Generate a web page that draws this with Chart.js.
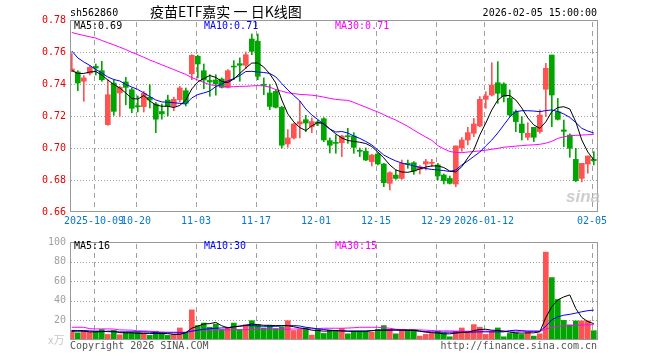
<!DOCTYPE html>
<html><head><meta charset="utf-8">
<script src="https://cdn.jsdelivr.net/npm/chart.js@4"></script>
<style>
body{margin:0;background:#fff;width:660px;height:360px;overflow:hidden;position:relative;font-family:"DejaVu Sans Mono",monospace;}
canvas{position:absolute;left:0;}
#c1{top:0;}
#c2{top:232px;}
.t{position:absolute;font-size:10px;line-height:10px;white-space:nowrap;font-family:"DejaVu Sans Mono",monospace;}
</style></head>
<body>
<canvas id="c1" width="660" height="232" style="width:660px;height:232px"></canvas>
<canvas id="c2" width="660" height="128" style="width:660px;height:128px"></canvas>
<div class="t" id="code" style="left:70px;top:8px;color:#000">sh562860</div>
<div class="t" id="title" style="left:150px;top:3px;font-size:14px;line-height:16px;font-family:'Noto Sans CJK SC',sans-serif;color:#000">疫苗ETF嘉实 一 日K线图</div>
<div class="t" id="time" style="right:63px;top:8px;color:#000">2026-02-05 15:00:00</div>
<div class="t" id="pma5" style="left:74px;top:21px;color:#000"></div>
<div class="t" id="pma10" style="left:204px;top:21px;color:#0000ff"></div>
<div class="t" id="pma30" style="left:335px;top:21px;color:#ff00ff"></div>
<div class="t" id="vma5l" style="left:74px;top:241px;color:#000"></div>
<div class="t" id="vma10l" style="left:204px;top:241px;color:#0000ff"></div>
<div class="t" id="vma30l" style="left:335px;top:241px;color:#ff00ff"></div>
<div class="t" id="unit" style="left:48px;top:334px;color:#c8c8c8;font-size:11px;line-height:11px;font-family:'Noto Sans CJK SC',sans-serif">x万</div>
<div class="t" id="copy" style="left:70px;top:341px;color:#555">Copyright 2026 SINA.COM</div>
<div class="t" id="url" style="right:63px;top:341px;color:#555">http://finance.sina.com.cn</div>
<div class="t" id="sina" style="left:566px;top:188px;font:italic bold 17px 'Liberation Sans',sans-serif;line-height:17px;color:rgba(190,190,190,0.75)">sina</div>
<script>
const tickIdx = [4,11,21,31,41,51,61,69,87];
const tickLabels = ['2025-10-09','10-20','11-03','11-17','12-01','12-15','12-29','2026-01-12','02-05'];
const priceTicks = [0.66,0.68,0.70,0.72,0.74,0.76,0.78];
const volTicks = [0,20,40,60,80,100];

const openP = [0.7480,0.7475,0.7417,0.7467,0.7510,0.7483,0.7146,0.7406,0.7344,0.7413,
0.7364,0.7262,0.7258,0.7317,0.7275,0.7228,0.7300,0.7260,0.7302,0.7358,
0.7464,0.7573,0.7483,0.7422,0.7425,0.7431,0.7379,0.7510,0.7527,0.7517,
0.7681,0.7667,0.7394,0.7344,0.7354,0.7254,0.7025,0.7063,0.7150,0.7177,
0.7133,0.7160,0.7183,0.7046,0.7033,0.7033,0.7077,0.7075,0.6985,0.6979,
0.6915,0.6963,0.6900,0.6779,0.6831,0.6810,0.6904,0.6908,0.6867,0.6900,
0.6904,0.6894,0.6831,0.6810,0.6775,0.7000,0.7050,0.7092,0.7138,0.7304,
0.7331,0.7408,0.7400,0.7311,0.7227,0.7150,0.7067,0.7129,0.7102,0.7367,
0.7581,0.7227,0.7113,0.7081,0.6929,0.6810,0.6900,0.6929];
const highP = [0.7590,0.7483,0.7452,0.7515,0.7525,0.7542,0.7427,0.7427,0.7385,0.7442,
0.7375,0.7325,0.7354,0.7396,0.7285,0.7275,0.7330,0.7318,0.7385,0.7375,
0.7583,0.7580,0.7525,0.7458,0.7458,0.7438,0.7490,0.7546,0.7563,0.7600,
0.7713,0.7713,0.7438,0.7396,0.7365,0.7260,0.7115,0.7156,0.7292,0.7204,
0.7188,0.7175,0.7190,0.7063,0.7081,0.7081,0.7123,0.7096,0.7000,0.7000,
0.6960,0.6971,0.6904,0.6852,0.6863,0.6925,0.6925,0.6915,0.6890,0.6929,
0.6929,0.6904,0.6838,0.6825,0.7013,0.7065,0.7129,0.7185,0.7321,0.7352,
0.7533,0.7540,0.7408,0.7363,0.7238,0.7196,0.7158,0.7129,0.7238,0.7529,
0.7581,0.7310,0.7175,0.7088,0.6998,0.6904,0.6950,0.6977];
const lowP = [0.7478,0.7358,0.7292,0.7456,0.7456,0.7417,0.7142,0.7204,0.7198,0.7270,
0.7220,0.7225,0.7225,0.7250,0.7096,0.7180,0.7200,0.7233,0.7288,0.7263,
0.7427,0.7438,0.7370,0.7323,0.7330,0.7375,0.7375,0.7427,0.7417,0.7496,
0.7583,0.7427,0.7333,0.7240,0.7250,0.7000,0.7004,0.7056,0.7063,0.7102,
0.7096,0.7140,0.7040,0.6969,0.6967,0.6946,0.7029,0.6967,0.6946,0.6921,
0.6888,0.6894,0.6758,0.6738,0.6804,0.6804,0.6873,0.6835,0.6838,0.6863,
0.6883,0.6800,0.6775,0.6775,0.6758,0.6979,0.7019,0.7071,0.7133,0.7248,
0.7325,0.7279,0.7288,0.7196,0.7102,0.7050,0.7050,0.7040,0.7092,0.7196,
0.7133,0.7175,0.7008,0.6942,0.6790,0.6788,0.6842,0.6894];
const closeP = [0.7495,0.7406,0.7438,0.7504,0.7500,0.7427,0.7333,0.7229,0.7379,0.7379,
0.7248,0.7258,0.7342,0.7300,0.7180,0.7213,0.7263,0.7304,0.7375,0.7279,
0.7579,0.7525,0.7425,0.7413,0.7400,0.7379,0.7483,0.7506,0.7517,0.7583,
0.7604,0.7448,0.7392,0.7260,0.7254,0.7017,0.7063,0.7150,0.7164,0.7156,
0.7165,0.7155,0.7050,0.7017,0.7029,0.7075,0.7070,0.7004,0.6979,0.6925,
0.6956,0.6900,0.6783,0.6846,0.6810,0.6904,0.6898,0.6856,0.6883,0.6915,
0.6908,0.6825,0.6796,0.6779,0.7013,0.7050,0.7096,0.7150,0.7304,0.7325,
0.7394,0.7342,0.7321,0.7206,0.7165,0.7096,0.7092,0.7067,0.7206,0.7498,
0.7331,0.7179,0.7104,0.6998,0.6796,0.6904,0.6950,0.6921];
const ma5 = [0.7484,0.7466,0.7466,0.7475,0.7478,0.7456,0.7425,0.7397,0.7375,0.7344,
0.7309,0.7306,0.7328,0.7294,0.7269,0.7261,0.7261,0.7253,0.7266,0.7300,
0.7369,0.7413,0.7434,0.7453,0.7441,0.7416,0.7409,0.7431,0.7466,0.7500,
0.7531,0.7531,0.7506,0.7463,0.7406,0.7300,0.7213,0.7163,0.7128,0.7109,
0.7138,0.7159,0.7153,0.7119,0.7088,0.7063,0.7047,0.7041,0.7036,0.7028,
0.7009,0.6975,0.6938,0.6894,0.6863,0.6850,0.6848,0.6856,0.6869,0.6881,
0.6888,0.6888,0.6878,0.6856,0.6850,0.6883,0.6938,0.6988,0.7081,0.7156,
0.7238,0.7300,0.7328,0.7328,0.7300,0.7250,0.7188,0.7144,0.7123,0.7163,
0.7227,0.7253,0.7258,0.7244,0.7163,0.7050,0.6975,0.6925];
const ma10 = [0.7606,0.7563,0.7538,0.7516,0.7491,0.7469,0.7444,0.7428,0.7419,0.7397,
0.7381,0.7366,0.7344,0.7322,0.7300,0.7288,0.7286,0.7283,0.7279,0.7275,
0.7313,0.7334,0.7344,0.7356,0.7384,0.7400,0.7419,0.7434,0.7453,0.7478,
0.7479,0.7475,0.7472,0.7466,0.7444,0.7403,0.7363,0.7328,0.7294,0.7244,
0.7206,0.7178,0.7147,0.7119,0.7100,0.7103,0.7094,0.7075,0.7060,0.7041,
0.7019,0.6988,0.6956,0.6936,0.6919,0.6906,0.6897,0.6888,0.6879,0.6872,
0.6866,0.6863,0.6859,0.6853,0.6863,0.6894,0.6919,0.6947,0.6975,0.7013,
0.7050,0.7094,0.7144,0.7194,0.7227,0.7233,0.7233,0.7231,0.7227,0.7234,
0.7238,0.7228,0.7213,0.7191,0.7159,0.7123,0.7106,0.7094];
const ma30 = [0.7722,0.7712,0.7703,0.7695,0.7687,0.7672,0.7658,0.7645,0.7630,0.7615,
0.7598,0.7583,0.7567,0.7550,0.7535,0.7520,0.7505,0.7490,0.7475,0.7460,
0.7440,0.7425,0.7410,0.7395,0.7390,0.7385,0.7382,0.7383,0.7385,0.7386,
0.7388,0.7390,0.7388,0.7380,0.7365,0.7355,0.7345,0.7340,0.7335,0.7333,
0.7330,0.7325,0.7318,0.7310,0.7304,0.7300,0.7298,0.7285,0.7270,0.7255,
0.7240,0.7225,0.7208,0.7190,0.7175,0.7155,0.7135,0.7112,0.7090,0.7068,
0.7048,0.7015,0.6995,0.6978,0.6972,0.6971,0.6975,0.6978,0.6982,0.6986,
0.6992,0.6998,0.7005,0.7008,0.7012,0.7015,0.7018,0.7020,0.7023,0.7030,
0.7042,0.7060,0.7070,0.7076,0.7079,0.7081,0.7083,0.7085];

const vol = [10,7.3,9,8,9,10.7,5.7,9.7,5.3,8,
8,8.3,7.3,4.7,9,7.3,4.7,5.7,12.3,7.3,
30.7,14.7,17.3,13,16.3,10.7,13,17.3,10.7,15.7,
19.7,15.7,12.3,14.7,11.7,13,19.7,9.7,10.7,12.3,
5,10.7,6.7,10,9,11.7,6.3,9,9,9,
8,10.7,14.7,10.7,6.3,9.7,10.7,10.7,4,5.7,
6.7,9,7.3,3.3,9,12.3,8.3,15.7,13,5.7,
9,12.3,3.3,6.7,7.3,5.7,8,4,6.3,89.7,
63.7,41.3,20,15.5,19.5,19.5,19.5,9.5];
const vma5 = [9,9,9,8.3,8.3,8.5,9,9,7.5,7.3,
7.3,6.7,6.7,6.7,6.7,6.7,6.5,5.7,5.7,7.5,
12,14.2,16.3,16.7,18,14.5,12.5,13.5,14,15,
16.3,15.7,15,15,14.7,14.7,14.7,13.5,12.3,11.5,
10,9.7,9,9.3,9.7,9.3,9,9,9,9,
9.5,10,10,10.3,10.3,10.3,10,10,9,8,
7.5,7,6.3,6.3,7,7.7,8,9.5,10.7,11,
10,9.7,9,8,7.3,7,7.3,7.3,8.3,23,
34,41,44,46,32,23,18.8,16.7];
const vma10 = [9.7,9.7,9.7,9.3,9,9,8.5,8.3,8.3,8.3,
8.3,8.3,8.3,8,7.5,7.3,7.3,7.3,7.3,7.5,
9,10,11,11.5,12,12.3,12.5,13.5,14.3,14.7,
14.7,14.3,14,14,14,14.3,14.7,14.7,14.3,13,
12.3,11.3,10.7,10,9.5,9.3,9,9,9,9,
9.5,10,10,10,10,9.7,9.7,9.7,9,8.5,
8.3,8,8,8,8,8,8,8,8.3,8.3,
8.3,8.3,8.3,9.5,10,9.5,9,9,9,14,
20.7,23.6,25.3,26.2,27.4,28.8,29.9,30.5];
const vma30 = [13,13,13,11.5,11.3,11.3,11.3,11.2,10.3,10.2,
10,9.3,9.2,9,8.3,8.2,8,8,8,8,
9.7,10,10,10.2,10.2,10.3,10.3,10.5,10.5,10.5,
10.7,10.7,10.8,10.8,11,11,11,11.2,11.3,11.3,
11.5,11.7,12,12,12,12,12.2,12.5,13,13,
13,13,12.5,12,11,10.7,10.7,10.5,10.3,10,
9.7,9.3,9.3,9.3,9,9,9,9,9,9,
9,9,9,9,9,9,9,9,9,11,
13,14,14.3,14.7,15,15.3,15.5,15.7];

const RED = '#ff5252', GREEN = '#00a600';
const idx = closeP.map((_, i) => i);
const colors = idx.map(i => closeP[i] >= openP[i] ? RED : GREEN);
const last = closeP.length - 1;
const FONT = {family: 'DejaVu Sans Mono', size: 10};

document.getElementById('pma5').textContent = 'MA5:' + ma5[last].toFixed(2);
document.getElementById('pma10').textContent = 'MA10:' + ma10[last].toFixed(2);
document.getElementById('pma30').textContent = 'MA30:' + ma30[last].toFixed(2);
document.getElementById('vma5l').textContent = 'MA5:' + Math.floor(vma5[last]);
document.getElementById('vma10l').textContent = 'MA10:' + Math.floor(vma10[last]);
document.getElementById('vma30l').textContent = 'MA30:' + Math.floor(vma30[last]);

// grid (drawn behind existing marks) + solid frame, positioned from the scales
const frame = {
  id: 'frame',
  afterDraw(ch) {
    const a = ch.chartArea, c = ch.ctx, xs = ch.scales.x, ys = ch.scales.y;
    const top = Math.round(a.top), bot = Math.round(a.bottom);
    const lft = Math.round(a.left), rgt = Math.round(a.right);
    c.save();
    c.globalCompositeOperation = 'destination-over';
    c.fillStyle = '#a0a0a0';
    tickIdx.forEach(i => {
      const x = Math.round(xs.getPixelForValue(i - 0.3));
      for (let y = top + 2; y < bot; y += 9) c.fillRect(x, y, 1, Math.min(5, bot - y));
    });
    ys.ticks.forEach(t => {
      const y = Math.round(ys.getPixelForValue(t.value));
      if (y <= top || y >= bot - 1) return;
      for (let x = lft + 1; x < rgt; x += 3) c.fillRect(x, y, 1, 1);
    });
    c.restore();
    c.save();
    c.strokeStyle = '#999';
    c.lineWidth = 1;
    c.strokeRect(lft + 0.5, top + 0.5, rgt - lft - 1, bot - top - 1);
    c.restore();
  }
};

const lineDs = (arr, color) => ({
  type: 'line', data: idx.map(i => ({x: i, y: arr[i]})), borderColor: color,
  borderWidth: 1, pointRadius: 0, tension: 0, order: 0
});

const xScale = (showTicks) => ({
  type: 'linear', min: -0.3, max: 87.7, offset: false,
  afterFit(s) { s.height = 20; },
  afterBuildTicks(s) { s.ticks = tickIdx.map(i => ({value: i - 0.3})); },
  grid: {display: false, drawTicks: false},
  border: {display: false},
  ticks: {display: showTicks, autoSkip: false, maxRotation: 0, padding: 3,
    color: '#0a78c8', font: FONT, callback: (v, k) => tickLabels[k]}
});

new Chart(document.getElementById('c1'), {
  type: 'bar',
  data: {datasets: [
    lineDs(ma5, '#000000'),
    lineDs(ma10, '#0000ff'),
    lineDs(ma30, '#ff00ff'),
    {data: idx.map(i => ({x: i, y: [lowP[i], highP[i]]})), backgroundColor: colors,
      barThickness: 1, grouped: false, order: 2},
    {data: idx.map(i => ({x: i, y: [openP[i], closeP[i]]})), backgroundColor: colors,
      barThickness: 5, minBarLength: 1, grouped: false, order: 1}
  ]},
  options: {
    responsive: false, animation: false, events: [],
    layout: {padding: {left: 0, right: 62, top: 20, bottom: 0}},
    plugins: {legend: {display: false}, tooltip: {enabled: false}},
    scales: {
      x: xScale(true),
      y: {
        min: 0.66, max: 0.78,
        afterFit(s) { s.width = 70; },
        afterBuildTicks(s) { s.ticks = priceTicks.map(v => ({value: v})); },
        grid: {display: false, drawTicks: false},
        border: {display: false},
        ticks: {padding: 4, color: '#e60000', font: FONT, callback: v => v.toFixed(2)}
      }
    }
  },
  plugins: [frame]
});

new Chart(document.getElementById('c2'), {
  type: 'bar',
  data: {datasets: [
    lineDs(vma5, '#000000'),
    lineDs(vma10, '#0000ff'),
    lineDs(vma30, '#ff00ff'),
    {data: idx.map(i => ({x: i, y: vol[i]})), backgroundColor: colors,
      barThickness: 5, grouped: false, order: 1}
  ]},
  options: {
    responsive: false, animation: false, events: [],
    layout: {padding: {left: 0, right: 62, top: 9, bottom: 0}},
    plugins: {legend: {display: false}, tooltip: {enabled: false}},
    scales: {
      x: xScale(false),
      y: {
        min: 0, max: 100,
        afterFit(s) { s.width = 70; },
        afterBuildTicks(s) { s.ticks = volTicks.map(v => ({value: v})); },
        grid: {display: false, drawTicks: false},
        border: {display: false},
        ticks: {padding: 4, color: '#a0a0a0', font: FONT, callback: v => v === 0 ? '' : String(v)}
      }
    }
  },
  plugins: [frame]
});
</script>
</body></html>
